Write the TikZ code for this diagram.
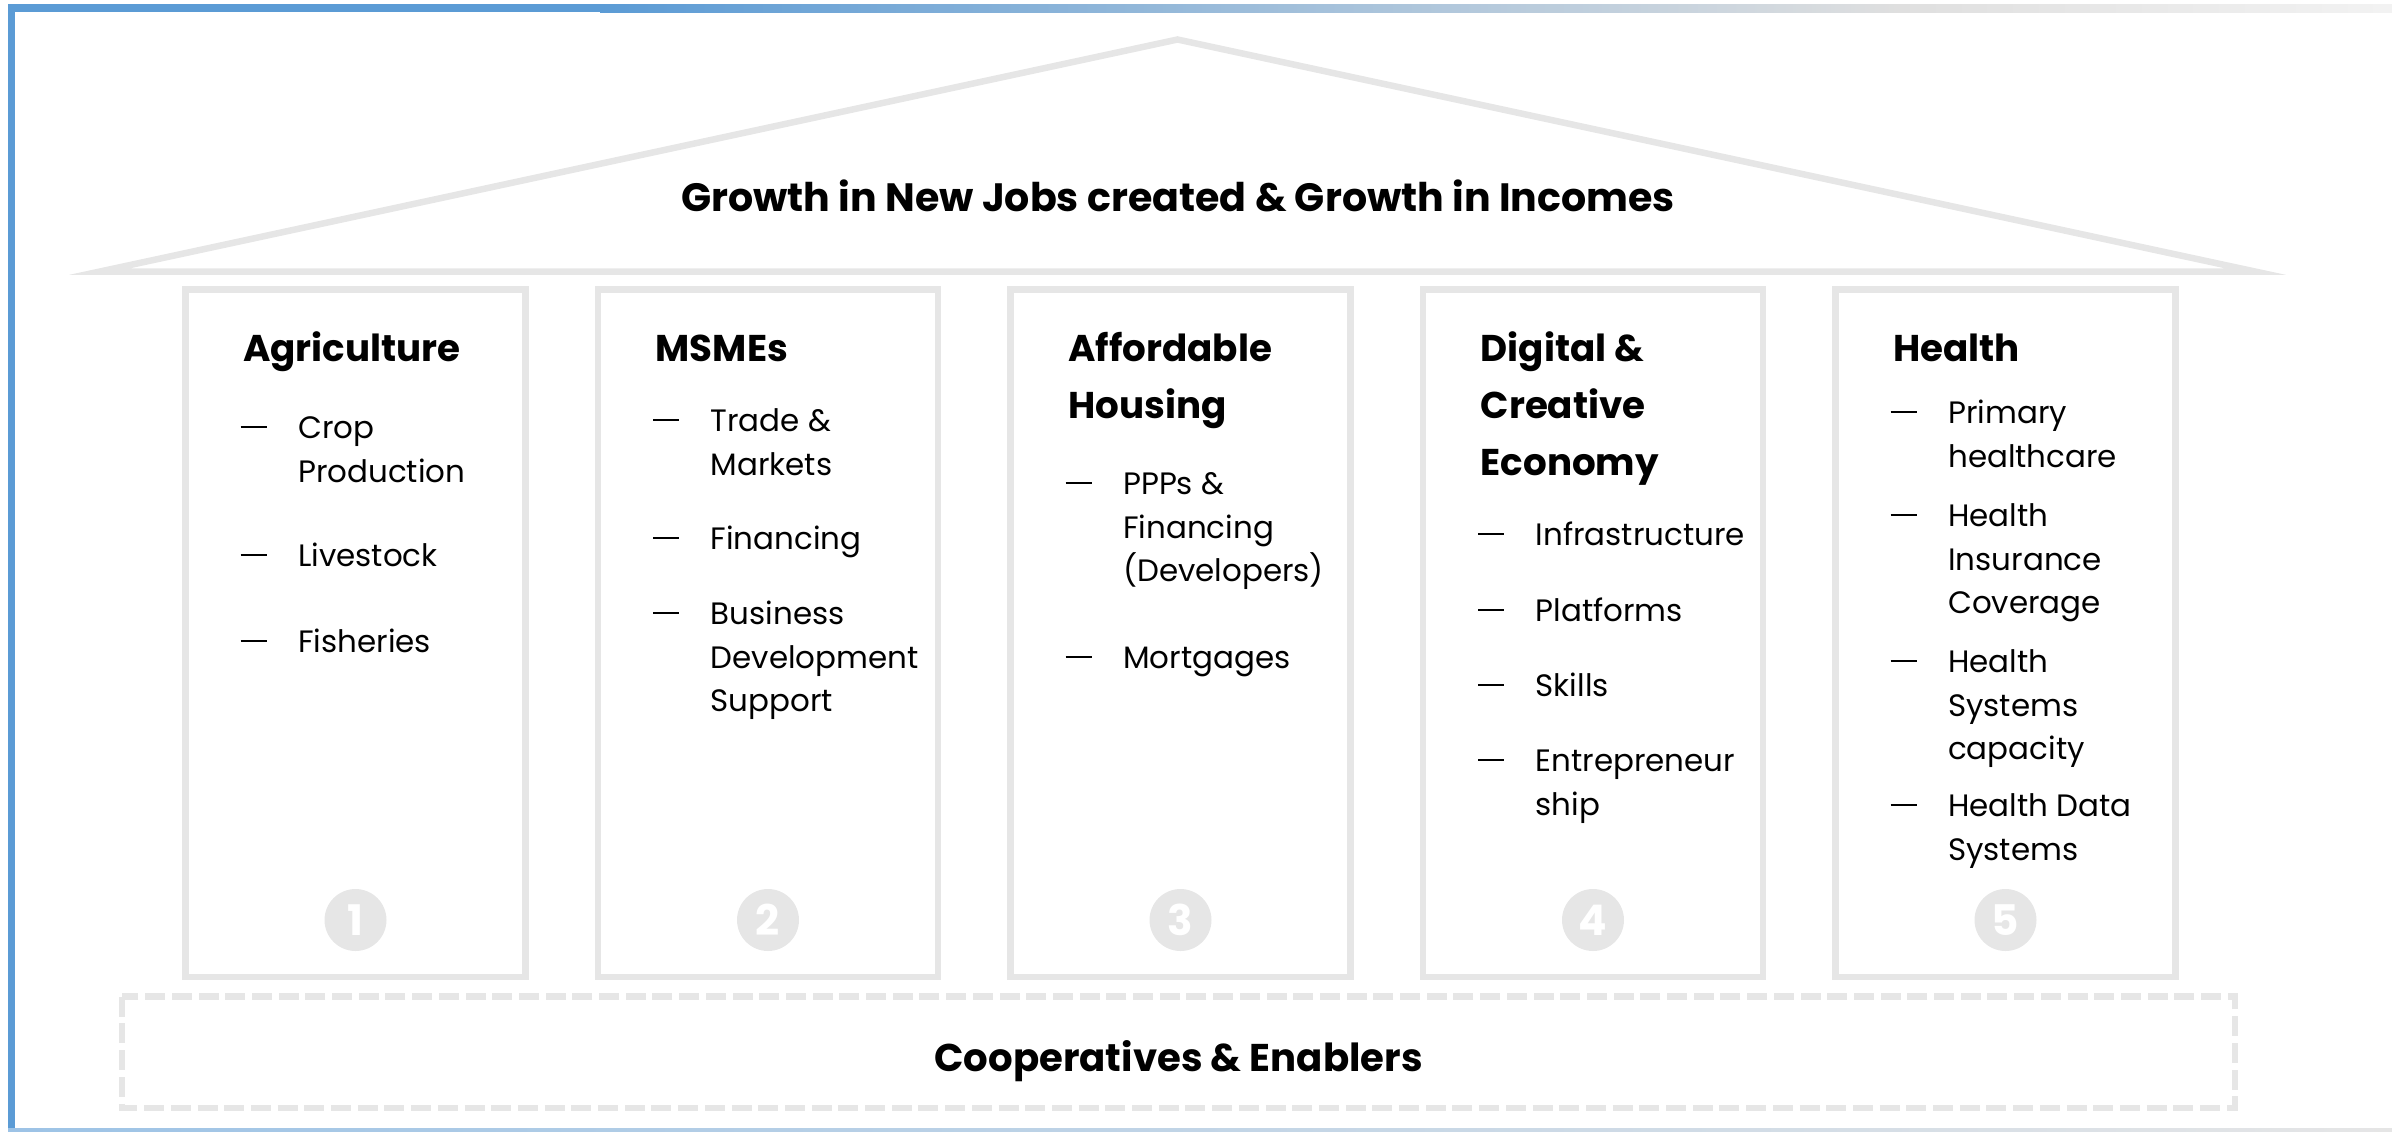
\documentclass[tikz,border=0pt]{standalone}
\usepackage{fontspec}
\setmainfont{Poppins}
\usepackage{tikz}
\definecolor{frameblue}{HTML}{5B9BD5}
\definecolor{pillargray}{HTML}{E6E6E6}

\begin{document}
\begin{tikzpicture}[
    pillar/.style={draw=pillargray, line width=0.065cm},
    heading/.style={anchor=north west, align=left, inner sep=0pt, yshift=11.34pt,
        execute at begin node=\strut,
        font={\bfseries\fontsize{10.6}{16.2}\selectfont}},
    banner/.style={anchor=base, inner sep=0pt,
        font={\bfseries\fontsize{11}{16.2}\selectfont}},
    item/.style={anchor=north west, align=left, inner sep=0pt, yshift=8.68pt,
        execute at begin node=\strut,
        font={\fontsize{8.8}{12.4}\selectfont}},
    bullet/.style={line width=0.8pt},
    badge/.style={circle, fill=pillargray, inner sep=0pt, minimum size=0.62cm,
        text=white, font={\bfseries\fontsize{12}{12}\selectfont}},
    enabler/.style={draw=pillargray, line width=0.067cm,
        dash pattern=on 0.2cm off 0.067cm},
    ]
        \useasboundingbox (0,0) rectangle (23.92,-11.31);
        % Frame
        \fill[frameblue] (0.08,-0.04) rectangle (0.15,-11.31);
        \fill[frameblue] (0.08,-0.04) rectangle (6,-0.12);
        \shade[left color=frameblue, right color=gray!25] (6,-0.04) rectangle (19,-0.12);
        \shade[left color=gray!25, right color=gray!10] (19,-0.04) rectangle (23.92,-0.12);
        \shade[left color=frameblue!60, right color=gray!20] (0.08,-11.28) rectangle (23.92,-11.31);

        % Roof
        \draw[pillar] (1.00,-2.715) -- (11.775,-0.395) -- (22.55,-2.715) -- cycle;
        \node[banner, font={\bfseries\fontsize{11.25}{16.2}\selectfont}] (growth) at (11.78,-2.11)
            {Growth in New Jobs created \& Growth in Incomes};

        % Pillars
        \draw[pillar] (1.855,-2.895) rectangle (5.255,-9.77);
        \draw[pillar] (5.98,-2.895) rectangle (9.38,-9.77);
        \draw[pillar] (10.105,-2.895) rectangle (13.505,-9.77);
        \draw[pillar] (14.23,-2.895) rectangle (17.63,-9.77);
        \draw[pillar] (18.355,-2.895) rectangle (21.755,-9.77);

        % Numbers
        \node[badge] (n1) at (3.555,-9.2) {1};
        \node[badge] (n2) at (7.68,-9.2) {2};
        \node[badge] (n3) at (11.805,-9.2) {3};
        \node[badge] (n4) at (15.93,-9.2) {4};
        \node[badge] (n5) at (20.055,-9.2) {5};

        % Agriculture
        \node[heading] (agri) at (2.425,-3.61) {Agriculture};
        \node[item] (agri1) at (2.975,-4.38) {\strut Crop\\Production};
        \node[item] (agri2) at (2.975,-5.66) {Livestock};
        \node[item] (agri3) at (2.975,-6.52) {Fisheries};

        % MSMEs
        \node[heading] (msme) at (6.55,-3.61) {MSMEs};
        \node[item] (msme1) at (7.10,-4.31) {\strut Trade \&\\Markets};
        \node[item] (msme2) at (7.10,-5.49) {Financing};
        \node[item] (msme3) at (7.10,-6.24) {\strut Business\\Development\\Support};

        % Housing
        \node[heading] (house) at (10.675,-3.61) {\strut Affordable\\Housing};
        \node[item] (house1) at (11.225,-4.94) {\strut PPPs \&\\Financing\\(Developers)};
        \node[item] (house2) at (11.225,-6.68) {Mortgages};

        % Digital
        \node[heading] (digi) at (14.80,-3.61) {\strut Digital \&\\Creative\\Economy};
        \node[item] (digi1) at (15.35,-5.45) {Infrastructure};
        \node[item] (digi2) at (15.35,-6.21) {Platforms};
        \node[item] (digi3) at (15.35,-6.96) {Skills};
        \node[item] (digi4) at (15.35,-7.71) {\strut Entrepreneur\\ship};

        % Health
        \node[heading] (health) at (18.925,-3.61) {Health};
        \node[item] (health1) at (19.475,-4.23) {\strut Primary\\healthcare};
        \node[item] (health2) at (19.475,-5.26) {\strut Health\\Insurance\\Coverage};
        \node[item] (health3) at (19.475,-6.72) {\strut Health\\Systems\\capacity};
        \node[item] (health4) at (19.475,-8.16) {\strut Health Data\\Systems};

        % Dashes
        \foreach \i in {agri1,agri2,agri3,msme1,msme2,msme3,house1,house2,
            digi1,digi2,digi3,digi4,health1,health2,health3,health4}
            \draw[bullet] ([xshift=-0.57cm,yshift=-5.55pt]\i.north west) -- +(0.26,0);

        % Base
        \draw[enabler] (1.22,-9.967) rectangle (22.35,-11.08);
        \node[banner] (coop) at (11.785,-10.71) {Cooperatives \& Enablers};
    \end{tikzpicture}
\end{document}
